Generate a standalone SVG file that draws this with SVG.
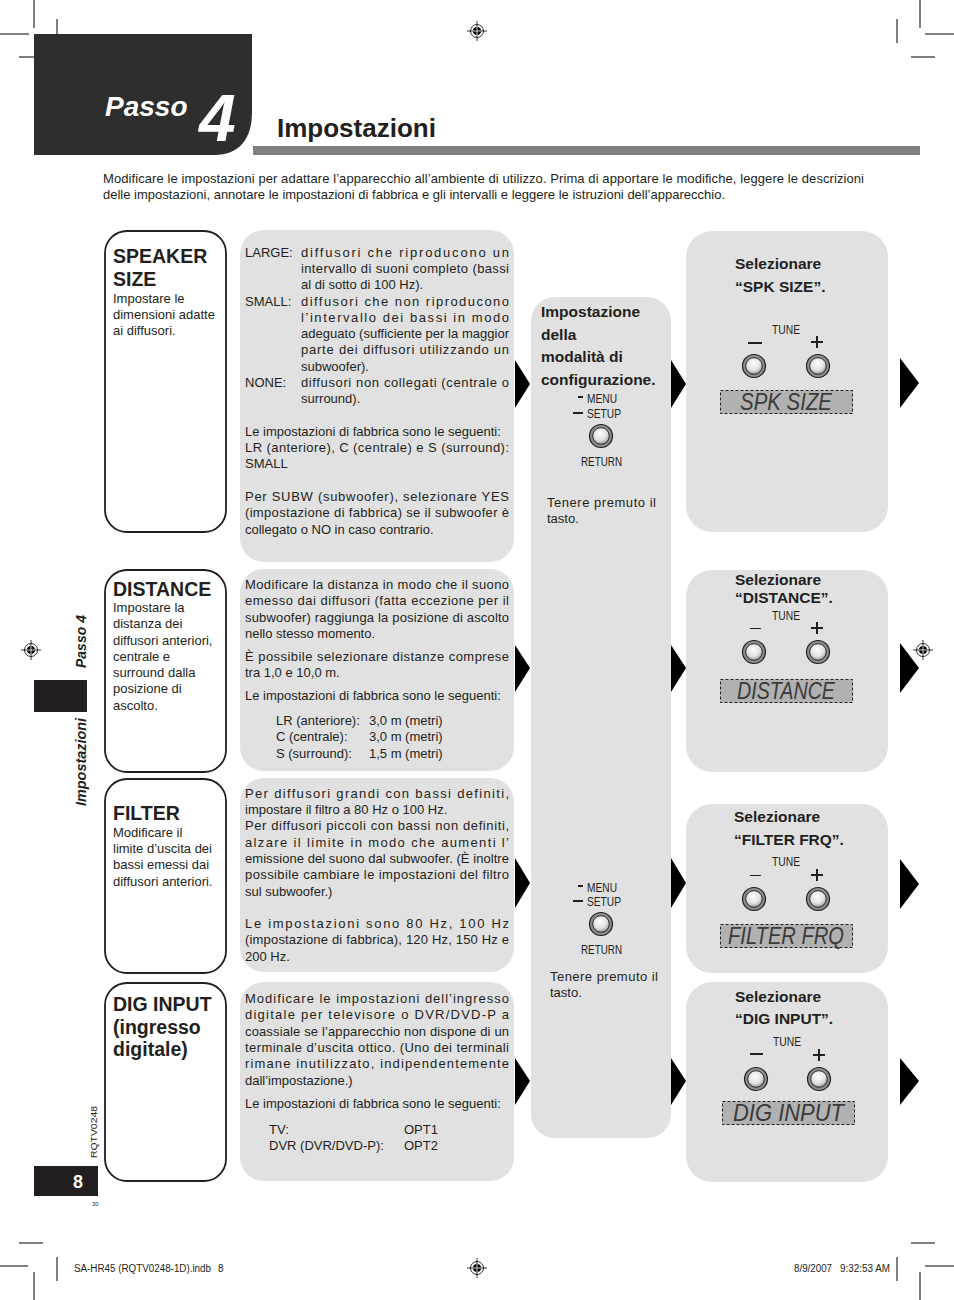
<svg xmlns="http://www.w3.org/2000/svg" xmlns:xlink="http://www.w3.org/1999/xlink" width="954" height="1300" viewBox="0 0 954 1300">
<style>
text{font-family:"Liberation Sans",Arial,sans-serif;fill:#231f20}
.body{font-size:13px}
.ttl{font-size:19.5px;font-weight:bold}
.hd{font-size:15.5px;font-weight:bold}
.nar{font-size:13px}
.disp{font-size:24px;font-style:italic;fill:#3a3a3a}
.gbox{fill:#e1e1e1}
.obox{fill:#fff;stroke:#231f20;stroke-width:1.8}
.crop{stroke:#000;stroke-width:1;fill:none}
.arr{fill:#000}
.lcd{fill:#b1b1b1;stroke:#231f20;stroke-width:1;stroke-dasharray:3 2}
.bar{stroke:#231f20;stroke-width:2}
.thin{stroke:#231f20;stroke-width:1}
</style>
<defs>
<radialGradient id="bg" cx="45%" cy="35%" r="70%">
<stop offset="0" stop-color="#ffffff"/>
<stop offset="0.6" stop-color="#e0e0e0"/>
<stop offset="1" stop-color="#8a8a8a"/>
</radialGradient>
<g id="btn">
<circle r="11.5" fill="#8c8c8c" stroke="#231f20" stroke-width="1.2"/>
<circle r="8.3" fill="url(#bg)" stroke="#231f20" stroke-width="0.9"/>
</g>
<g id="reg">
<line x1="-10" y1="0" x2="10" y2="0" stroke="#000" stroke-width="0.8"/>
<line x1="0" y1="-10" x2="0" y2="10" stroke="#000" stroke-width="0.8"/>
<circle r="6.5" fill="none" stroke="#000" stroke-width="0.8"/>
<circle r="4" fill="#000"/>
<line x1="-4" y1="0" x2="4" y2="0" stroke="#fff" stroke-width="0.8"/>
<line x1="0" y1="-4" x2="0" y2="4" stroke="#fff" stroke-width="0.8"/>
</g>
</defs>
<rect width="954" height="1300" fill="#fff"/>

<!-- crop marks -->
<g id="cropmarks" class="crop">
<line x1="34" y1="0" x2="34" y2="28"/><line x1="0" y1="34" x2="29" y2="34"/>
<line x1="57" y1="19" x2="57" y2="43"/><line x1="19" y1="57" x2="43" y2="57"/>
<line x1="920" y1="0" x2="920" y2="28"/><line x1="925" y1="34" x2="954" y2="34"/>
<line x1="897" y1="19" x2="897" y2="43"/><line x1="911" y1="57" x2="935" y2="57"/>
<line x1="19" y1="1243" x2="43" y2="1243"/><line x1="0" y1="1266" x2="28" y2="1266"/>
<line x1="57" y1="1257" x2="57" y2="1281"/><line x1="34" y1="1272" x2="34" y2="1300"/>
<line x1="911" y1="1243" x2="935" y2="1243"/><line x1="925" y1="1266" x2="954" y2="1266"/>
<line x1="897" y1="1257" x2="897" y2="1281"/><line x1="920" y1="1272" x2="920" y2="1300"/>
</g>
<use xlink:href="#reg" x="477" y="31"/>
<use xlink:href="#reg" x="31" y="650"/>
<use xlink:href="#reg" x="923" y="650"/>
<use xlink:href="#reg" x="477" y="1268"/>

<!-- header -->
<g id="header">
<path d="M34,34 H252 V112 C252,138 240,155 214,155 H34 Z" fill="#2e2e2e"/>
<text x="105" y="116" style="font-size:28px;font-weight:bold;font-style:italic;fill:#fff">Passo</text>
<text x="199" y="141" style="font-size:66px;font-weight:bold;font-style:italic;fill:#fff">4</text>
<text x="277" y="137" style="font-size:26px;font-weight:bold">Impostazioni</text>
<rect x="253" y="146" width="667" height="9" fill="#808080"/>
<text x="103" y="183" class="body" textLength="761" lengthAdjust="spacing">Modificare le impostazioni per adattare l’apparecchio all’ambiente di utilizzo. Prima di apportare le modifiche, leggere le descrizioni</text>
<text x="103" y="199" class="body" textLength="622" lengthAdjust="spacing">delle impostazioni, annotare le impostazioni di fabbrica e gli intervalli e leggere le istruzioni dell’apparecchio.</text>
</g>

<!-- sidebar -->
<g id="sidebar">
<text transform="translate(86,668) rotate(-90)" style="font-size:14px;font-weight:bold;font-style:italic">Passo 4</text>
<rect x="34" y="680" width="53" height="32" fill="#231f20"/>
<text transform="translate(86,806) rotate(-90)" style="font-size:14px;font-weight:bold;font-style:italic" textLength="88" lengthAdjust="spacingAndGlyphs">Impostazioni</text>
<text transform="translate(97,1158) rotate(-90)" style="font-size:9.5px" textLength="52" lengthAdjust="spacingAndGlyphs">RQTV0248</text>
<rect x="34" y="1166" width="64" height="30" fill="#231f20"/>
<text x="78" y="1188" text-anchor="middle" style="font-size:18px;font-weight:bold;fill:#fff">8</text>
<text x="92" y="1206" style="font-size:6px">30</text>
</g>

<!-- footer -->
<g id="footer">
<text x="74" y="1272" style="font-size:10px" textLength="137" lengthAdjust="spacingAndGlyphs">SA-HR45 (RQTV0248-1D).indb</text>
<text x="218" y="1272" style="font-size:10px">8</text>
<text x="794" y="1272" style="font-size:10px" textLength="38" lengthAdjust="spacingAndGlyphs">8/9/2007</text>
<text x="840" y="1272" style="font-size:10px" textLength="50" lengthAdjust="spacingAndGlyphs">9:32:53 AM</text>
</g>

<!-- row 1 -->
<g id="title-speaker">
<rect x="105" y="231" width="121" height="301" rx="22" class="obox"/>
<text x="113" y="263" class="ttl">SPEAKER</text>
<text x="113" y="286" class="ttl">SIZE</text>
<text x="113" y="303" class="body">Impostare le</text>
<text x="113" y="319" class="body">dimensioni adatte</text>
<text x="113" y="335" class="body">ai diffusori.</text>
</g>
<g id="desc-speaker">
<rect x="240" y="230" width="274" height="332" rx="24" class="gbox"/>
<text x="245" y="257" class="body">LARGE:</text>
<text x="301" y="257" class="body" textLength="208" lengthAdjust="spacing">diffusori che riproducono un</text>
<text x="301" y="273" class="body" textLength="208" lengthAdjust="spacing">intervallo di suoni completo (bassi</text>
<text x="301" y="289" class="body">al di sotto di 100 Hz).</text>
<text x="245" y="306" class="body">SMALL:</text>
<text x="301" y="306" class="body" textLength="208" lengthAdjust="spacing">diffusori che non riproducono</text>
<text x="301" y="322" class="body" textLength="208" lengthAdjust="spacing">l’intervallo dei bassi in modo</text>
<text x="301" y="338" class="body" textLength="208" lengthAdjust="spacing">adeguato (sufficiente per la maggior</text>
<text x="301" y="354" class="body" textLength="208" lengthAdjust="spacing">parte dei diffusori utilizzando un</text>
<text x="301" y="371" class="body">subwoofer).</text>
<text x="245" y="387" class="body">NONE:</text>
<text x="301" y="387" class="body" textLength="208" lengthAdjust="spacing">diffusori non collegati (centrale o</text>
<text x="301" y="403" class="body">surround).</text>
<text x="245" y="436" class="body">Le impostazioni di fabbrica sono le seguenti:</text>
<text x="245" y="452" class="body" textLength="264" lengthAdjust="spacing">LR (anteriore), C (centrale) e S (surround):</text>
<text x="245" y="468" class="body">SMALL</text>
<text x="245" y="501" class="body" textLength="264" lengthAdjust="spacing">Per SUBW (subwoofer), selezionare YES</text>
<text x="245" y="517" class="body" textLength="264" lengthAdjust="spacing">(impostazione di fabbrica) se il subwoofer è</text>
<text x="245" y="534" class="body">collegato o NO in caso contrario.</text>
</g>

<!-- middle column -->
<g id="setup-mode">
<rect x="531" y="297" width="140" height="841" rx="24" class="gbox"/>
<text x="541" y="317" class="hd">Impostazione</text>
<text x="541" y="340" class="hd">della</text>
<text x="541" y="362" class="hd">modalità di</text>
<text x="541" y="385" class="hd">configurazione.</text>
<line x1="578" y1="397" x2="583" y2="397" class="bar"/>
<text x="587" y="403" class="nar" textLength="30" lengthAdjust="spacingAndGlyphs">MENU</text>
<line x1="573" y1="413" x2="583" y2="413" class="bar"/>
<text x="587" y="418" class="nar" textLength="34" lengthAdjust="spacingAndGlyphs">SETUP</text>
<use xlink:href="#btn" x="601" y="436"/>
<text x="581" y="466" class="nar" textLength="41" lengthAdjust="spacingAndGlyphs">RETURN</text>
<text x="547" y="507" class="body" textLength="109" lengthAdjust="spacing">Tenere premuto il</text>
<text x="547" y="523" class="body">tasto.</text>
<line x1="578" y1="886" x2="583" y2="886" class="bar"/>
<text x="587" y="892" class="nar" textLength="30" lengthAdjust="spacingAndGlyphs">MENU</text>
<line x1="573" y1="901" x2="583" y2="901" class="bar"/>
<text x="587" y="906" class="nar" textLength="34" lengthAdjust="spacingAndGlyphs">SETUP</text>
<use xlink:href="#btn" x="601" y="924"/>
<text x="581" y="954" class="nar" textLength="41" lengthAdjust="spacingAndGlyphs">RETURN</text>
<text x="550" y="981" class="body" textLength="108" lengthAdjust="spacing">Tenere premuto il</text>
<text x="550" y="997" class="body">tasto.</text>
</g>

<g id="select-spk">
<rect x="686" y="231" width="202" height="301" rx="26" class="gbox"/>
<text x="735" y="269" class="hd">Selezionare</text>
<text x="735" y="292" class="hd">“SPK SIZE”.</text>
<text x="772" y="334" class="nar" textLength="28" lengthAdjust="spacingAndGlyphs">TUNE</text>
<line x1="748" y1="343" x2="762" y2="343" class="bar"/>
<line x1="811" y1="342" x2="823" y2="342" class="bar"/><line x1="817" y1="336" x2="817" y2="348" class="bar"/>
<use xlink:href="#btn" x="754" y="366"/>
<use xlink:href="#btn" x="818" y="366"/>
<rect x="720.5" y="390.5" width="132" height="23" class="lcd"/>
<text x="740" y="410" class="disp" textLength="92" lengthAdjust="spacingAndGlyphs">SPK SIZE</text>
</g>

<!-- row 2 -->
<g id="title-distance">
<rect x="105" y="570" width="121" height="202" rx="22" class="obox"/>
<text x="113" y="596" class="ttl">DISTANCE</text>
<text x="113" y="612" class="body">Impostare la</text>
<text x="113" y="628" class="body">distanza dei</text>
<text x="113" y="645" class="body">diffusori anteriori,</text>
<text x="113" y="661" class="body">centrale e</text>
<text x="113" y="677" class="body">surround dalla</text>
<text x="113" y="693" class="body">posizione di</text>
<text x="113" y="710" class="body">ascolto.</text>
</g>
<g id="desc-distance">
<rect x="240" y="569" width="274" height="202" rx="24" class="gbox"/>
<text x="245" y="589" class="body" textLength="264" lengthAdjust="spacing">Modificare la distanza in modo che il suono</text>
<text x="245" y="605" class="body" textLength="264" lengthAdjust="spacing">emesso dai diffusori (fatta eccezione per il</text>
<text x="245" y="622" class="body" textLength="264" lengthAdjust="spacing">subwoofer) raggiunga la posizione di ascolto</text>
<text x="245" y="638" class="body">nello stesso momento.</text>
<text x="245" y="661" class="body" textLength="264" lengthAdjust="spacing">È possibile selezionare distanze comprese</text>
<text x="245" y="677" class="body">tra 1,0 e 10,0 m.</text>
<text x="245" y="700" class="body">Le impostazioni di fabbrica sono le seguenti:</text>
<text x="276" y="725" class="body">LR (anteriore):</text><text x="369" y="725" class="body">3,0 m (metri)</text>
<text x="276" y="741" class="body">C (centrale):</text><text x="369" y="741" class="body">3,0 m (metri)</text>
<text x="276" y="758" class="body">S (surround):</text><text x="369" y="758" class="body">1,5 m (metri)</text>
</g>
<g id="select-distance">
<rect x="686" y="570" width="202" height="202" rx="26" class="gbox"/>
<text x="735" y="585" class="hd">Selezionare</text>
<text x="735" y="603" class="hd">“DISTANCE”.</text>
<text x="772" y="620" class="nar" textLength="28" lengthAdjust="spacingAndGlyphs">TUNE</text>
<line x1="750" y1="628.5" x2="761" y2="628.5" class="thin"/>
<line x1="811" y1="628" x2="823" y2="628" class="bar"/><line x1="817" y1="622" x2="817" y2="634" class="bar"/>
<use xlink:href="#btn" x="754" y="652"/>
<use xlink:href="#btn" x="818" y="652"/>
<rect x="720.5" y="679.5" width="132" height="23" class="lcd"/>
<text x="737" y="699" class="disp" textLength="98" lengthAdjust="spacingAndGlyphs">DISTANCE</text>
</g>

<!-- row 3 -->
<g id="title-filter">
<rect x="105" y="779" width="121" height="194" rx="22" class="obox"/>
<text x="113" y="820" class="ttl">FILTER</text>
<text x="113" y="837" class="body">Modificare il</text>
<text x="113" y="853" class="body">limite d’uscita dei</text>
<text x="113" y="869" class="body">bassi emessi dai</text>
<text x="113" y="886" class="body">diffusori anteriori.</text>
</g>
<g id="desc-filter">
<rect x="240" y="778" width="274" height="194" rx="24" class="gbox"/>
<text x="245" y="798" class="body" textLength="264" lengthAdjust="spacing">Per diffusori grandi con bassi definiti,</text>
<text x="245" y="814" class="body">impostare il filtro a 80 Hz o 100 Hz.</text>
<text x="245" y="830" class="body" textLength="264" lengthAdjust="spacing">Per diffusori piccoli con bassi non definiti,</text>
<text x="245" y="847" class="body" textLength="264" lengthAdjust="spacing">alzare il limite in modo che aumenti l’</text>
<text x="245" y="863" class="body" textLength="264" lengthAdjust="spacing">emissione del suono dal subwoofer. (È inoltre</text>
<text x="245" y="879" class="body" textLength="264" lengthAdjust="spacing">possibile cambiare le impostazioni del filtro</text>
<text x="245" y="896" class="body">sul subwoofer.)</text>
<text x="245" y="928" class="body" textLength="264" lengthAdjust="spacing">Le impostazioni sono 80 Hz, 100 Hz</text>
<text x="245" y="944" class="body" textLength="264" lengthAdjust="spacing">(impostazione di fabbrica), 120 Hz, 150 Hz e</text>
<text x="245" y="961" class="body">200 Hz.</text>
</g>
<g id="select-filter">
<rect x="686" y="804" width="202" height="169" rx="26" class="gbox"/>
<text x="734" y="822" class="hd">Selezionare</text>
<text x="734" y="845" class="hd">“FILTER FRQ”.</text>
<text x="772" y="866" class="nar" textLength="28" lengthAdjust="spacingAndGlyphs">TUNE</text>
<line x1="750" y1="875.5" x2="761" y2="875.5" class="thin"/>
<line x1="811" y1="875" x2="823" y2="875" class="bar"/><line x1="817" y1="869" x2="817" y2="881" class="bar"/>
<use xlink:href="#btn" x="754" y="899"/>
<use xlink:href="#btn" x="818" y="899"/>
<rect x="720.5" y="924.5" width="132" height="23" class="lcd"/>
<text x="728" y="944" class="disp" textLength="116" lengthAdjust="spacingAndGlyphs">FILTER FRQ</text>
</g>

<!-- row 4 -->
<g id="title-diginput">
<rect x="105" y="983" width="121" height="198" rx="22" class="obox"/>
<text x="113" y="1011" class="ttl">DIG INPUT</text>
<text x="113" y="1034" class="ttl">(ingresso</text>
<text x="113" y="1056" class="ttl">digitale)</text>
</g>
<g id="desc-diginput">
<rect x="240" y="982" width="274" height="199" rx="24" class="gbox"/>
<text x="245" y="1003" class="body" textLength="264" lengthAdjust="spacing">Modificare le impostazioni dell’ingresso</text>
<text x="245" y="1019" class="body" textLength="264" lengthAdjust="spacing">digitale per televisore o DVR/DVD-P a</text>
<text x="245" y="1036" class="body" textLength="264" lengthAdjust="spacing">coassiale se l’apparecchio non dispone di un</text>
<text x="245" y="1052" class="body" textLength="264" lengthAdjust="spacing">terminale d’uscita ottico. (Uno dei terminali</text>
<text x="245" y="1068" class="body" textLength="264" lengthAdjust="spacing">rimane inutilizzato, indipendentemente</text>
<text x="245" y="1085" class="body">dall’impostazione.)</text>
<text x="245" y="1108" class="body">Le impostazioni di fabbrica sono le seguenti:</text>
<text x="269" y="1134" class="body">TV:</text><text x="404" y="1134" class="body">OPT1</text>
<text x="269" y="1150" class="body">DVR (DVR/DVD-P):</text><text x="404" y="1150" class="body">OPT2</text>
</g>
<g id="select-diginput">
<rect x="686" y="982" width="202" height="200" rx="26" class="gbox"/>
<text x="735" y="1002" class="hd">Selezionare</text>
<text x="735" y="1024" class="hd">“DIG INPUT”.</text>
<text x="773" y="1046" class="nar" textLength="28" lengthAdjust="spacingAndGlyphs">TUNE</text>
<line x1="750" y1="1054" x2="763" y2="1054" class="bar"/>
<line x1="813" y1="1055" x2="825" y2="1055" class="bar"/><line x1="819" y1="1049" x2="819" y2="1061" class="bar"/>
<use xlink:href="#btn" x="756" y="1079"/>
<use xlink:href="#btn" x="819" y="1079"/>
<rect x="722.5" y="1101.5" width="132" height="23" class="lcd"/>
<text x="733" y="1121" class="disp" textLength="111" lengthAdjust="spacingAndGlyphs">DIG INPUT</text>
</g>

<!-- connectors -->
<g id="connectors" class="arr">
<polygon points="515,360 530,384 515,408"/>
<polygon points="515,645 530,668 515,692"/>
<polygon points="515,858 530,883 515,908"/>
<polygon points="515,1058 530,1081 515,1105"/>
<polygon points="671,360 686,384 671,408"/>
<polygon points="671,645 686,668 671,692"/>
<polygon points="671,858 686,883 671,908"/>
<polygon points="671,1058 686,1081 671,1105"/>
<polygon points="900,358 919,383 900,408"/>
<polygon points="900,643 919,668 900,693"/>
<polygon points="900,859 919,884 900,909"/>
<polygon points="900,1058 919,1081 900,1105"/>
</g>
</svg>
